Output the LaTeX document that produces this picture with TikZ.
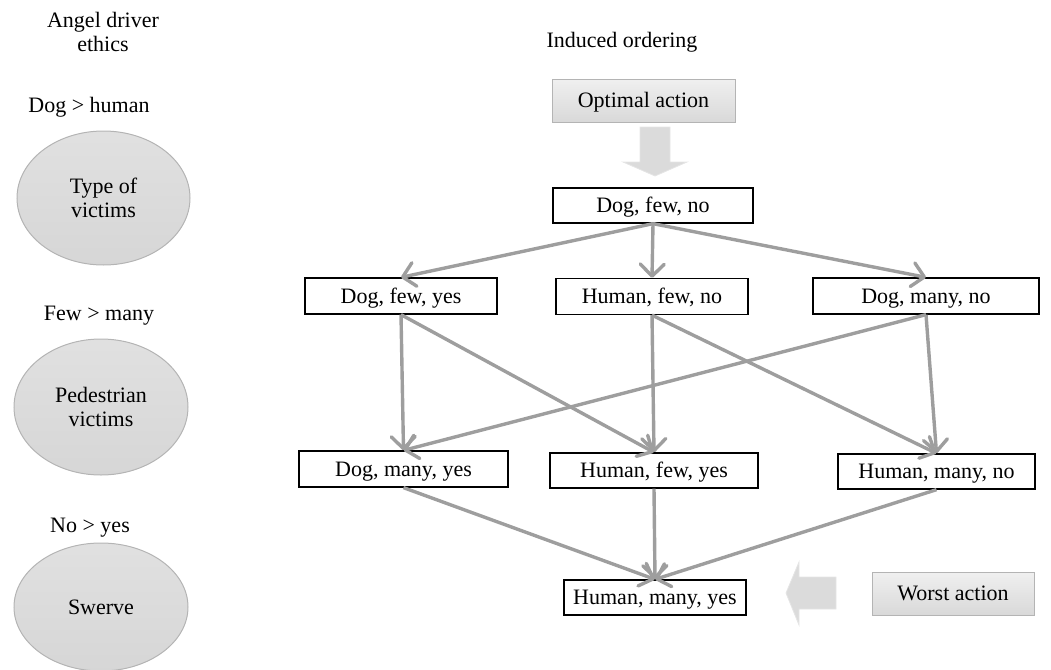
\documentclass[tikz,border=0pt]{standalone}
\usepackage{fontspec}
\setmainfont{Liberation Serif}
\usetikzlibrary{arrows.meta,shapes.geometric}
\definecolor{edgegray}{RGB}{158,158,158}
\definecolor{bordergray}{RGB}{180,180,180}
\tikzset{
  txt/.style={font=\fontsize{22}{24.5}\selectfont, align=center, inner sep=0pt},
  statebox/.style={draw=black, line width=1.3pt, fill=white, inner sep=0pt,
    text height=17pt, text depth=3pt, font=\fontsize{22}{24}\selectfont},
  graybox/.style={draw=bordergray, line width=1pt, top color=gray!12, bottom color=gray!30,
    inner sep=0pt, text height=17pt, text depth=3pt, font=\fontsize{22}{24}\selectfont},
  oval/.style={ellipse, draw=bordergray, line width=1pt, top color=gray!24, bottom color=gray!32,
    inner sep=0pt, align=center, font=\fontsize{22}{24.5}\selectfont},
  blockarrow/.style={fill=gray!28, draw=gray!20, line width=0.8pt},
  edge/.style={draw=edgegray, line width=3.4pt, line join=round,
    -{Straight Barb[length=12pt,width=24pt,line join=round,line cap=round]}},
}
\begin{document}
\begin{tikzpicture}[x=1pt,y=-1pt]
\useasboundingbox (0,0) rectangle (1051,669);
\begin{scope}
\clip (0,0) rectangle (1051,669);
% left column
\node[txt] (title) at (103,32) {Angel driver\\ethics};
\node[txt] (p1) at (89,107) {Dog > human};
\node[oval, minimum width=173pt, minimum height=134pt] (e1) at (103.5,198) {Type of\\victims};
\node[txt] (p2) at (99,316) {Few > many};
\node[oval, minimum width=174pt, minimum height=136pt] (e2) at (101,407) {Pedestrian\\victims};
\node[txt] (p3) at (90,528) {No > yes};
\node[oval, minimum width=174pt, minimum height=128pt] (e3) at (101,607) {Swerve};
\end{scope}

% right part
\node[txt] (induced) at (622,42) {Induced ordering};
\node[graybox, minimum width=183pt, minimum height=43pt] (opt) at (643.5,100.5) {Optimal action};
\node[graybox, minimum width=162pt, minimum height=43pt] (worst) at (953,593.5) {Worst action};

% block arrows
\draw[blockarrow] (640,127) -- (670,127) -- (670,162) -- (687,162) -- (655,176) -- (623,162) -- (640,162) -- cycle;
\draw[blockarrow] (836,577) -- (836,609) -- (799,609) -- (799,625) -- (786,593) -- (799,562) -- (799,577) -- cycle;

% states
\node[statebox, minimum width=200pt, minimum height=35pt] (dfn) at (653,205.5) {Dog, few, no};
\node[statebox, minimum width=192pt, minimum height=36pt] (dfy) at (401,296) {Dog, few, yes};
\node[statebox, minimum width=192pt, minimum height=36pt] (hfn) at (652,296.5) {Human, few, no};
\node[statebox, minimum width=226pt, minimum height=36pt] (dmn) at (926,296) {Dog, many, no};
\node[statebox, minimum width=209pt, minimum height=36pt] (dmy) at (403.5,469) {Dog, many, yes};
\node[statebox, minimum width=208pt, minimum height=35pt] (hfy) at (654,470.5) {Human, few, yes};
\node[statebox, minimum width=197pt, minimum height=35pt] (hmn) at (936.5,471.5) {Human, many, no};
\node[statebox, minimum width=182pt, minimum height=35pt] (hmy) at (655,597.5) {Human, many, yes};

% edges
\draw[edge] (dfn.south) -- (dfy.north);
\draw[edge] (dfn.south) -- (hfn.north);
\draw[edge] (dfn.south) -- (dmn.north);
\draw[edge] (dfy.south) -- (dmy.north);
\draw[edge] (dfy.south) -- (hfy.north);
\draw[edge] (hfn.south) -- (hfy.north);
\draw[edge] (hfn.south) -- (hmn.north);
\draw[edge] (dmn.south) -- (dmy.north);
\draw[edge] (dmn.south) -- (hmn.north);
\draw[edge] (dmy.south) -- (hmy.north);
\draw[edge] (hfy.south) -- (hmy.north);
\draw[edge] (hmn.south) -- (hmy.north);
\end{tikzpicture}
\end{document}
